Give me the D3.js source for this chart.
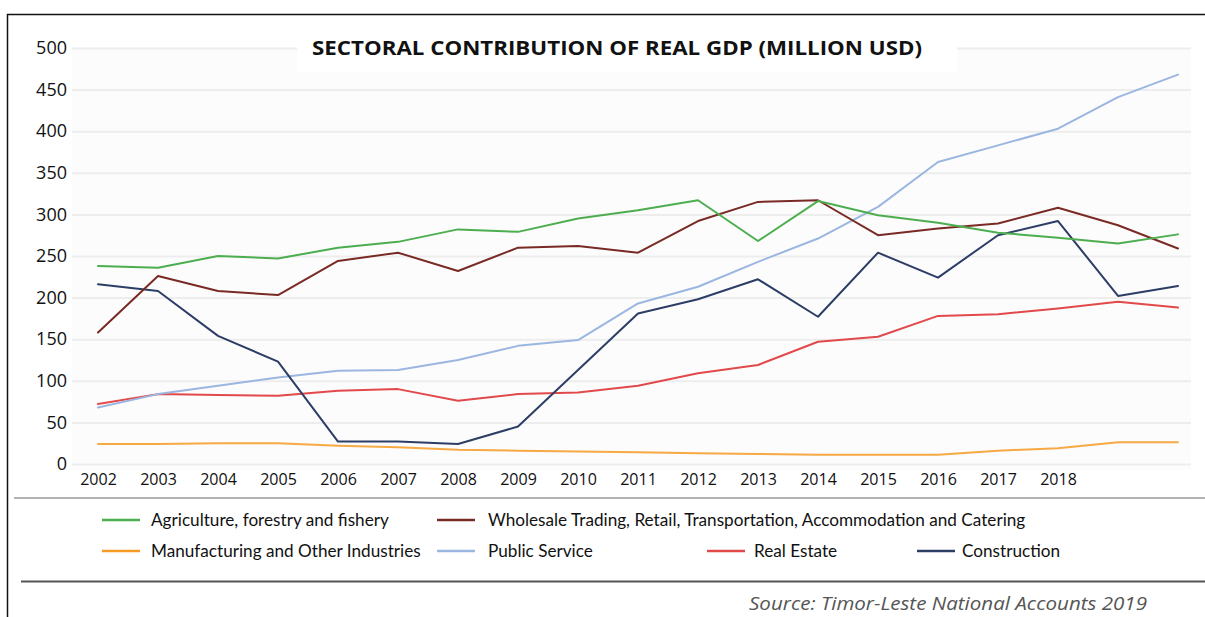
<!DOCTYPE html>
<html>
<head>
<meta charset="utf-8">
<script src="https://cdn.jsdelivr.net/npm/d3@7"></script>
<style>
  html, body { margin: 0; padding: 0; background: #fff; }
  svg { display: block; }
</style>
</head>
<body>
<svg id="chart" width="1205" height="617"></svg>
<script>
const years = [2002,2003,2004,2005,2006,2007,2008,2009,2010,2011,2012,2013,2014,2015,2016,2017,2018,2019,2020];
const labelledYears = [2002,2003,2004,2005,2006,2007,2008,2009,2010,2011,2012,2013,2014,2015,2016,2017,2018];
const yTicks = [0,50,100,150,200,250,300,350,400,450,500];

const agriculture   = [238,236,250,247,260,267,282,279,295,305,317,268,316,299,290,278,272,265,276];
const wholesale     = [158,226,208,203,244,254,232,260,262,254,292,315,317,275,283,289,308,287,259];
const manufacturing = [24,24,25,25,22,20,17,16,15,14,13,12,11,11,11,16,19,26,26];
const publicService = [68,84,94,104,112,113,125,142,149,193,213,243,271,309,363,383,403,441,468];
const realEstate    = [72,84,83,82,88,90,76,84,86,94,109,119,147,153,178,180,187,195,188];
const construction  = [216,208,154,123,27,27,24,45,113,181,198,222,177,254,224,275,292,202,214];

const seriesNames = [
  "Agriculture, forestry and fishery",
  "Wholesale Trading, Retail, Transportation, Accommodation and Catering",
  "Manufacturing and Other Industries",
  "Public Service",
  "Real Estate",
  "Construction"
];
const seriesColors = ["#4dae4f", "#7a2a24", "#f59a23", "#9bb6e0", "#e2494b", "#2c3d66"];
const seriesValues = [agriculture, wholesale, manufacturing, publicService, realEstate, construction];

const titleText = "SECTORAL CONTRIBUTION OF REAL GDP (MILLION USD)";
const sourceText = "Source: Timor-Leste National Accounts 2019";

const svg = d3.select("#chart");

// outer frame
svg.append("path").attr("d", "M7.5,617 L7.5,14.5 L1205,14.5")
  .attr("fill", "none").attr("stroke", "#111").attr("stroke-width", 1.5);

const x = d3.scalePoint().domain(years).range([98, 1178]);
const y = d3.scaleLinear().domain([0, 500]).range([464, 48]);

// plot background
svg.append("rect").attr("x", 72).attr("y", 48).attr("width", 1119).attr("height", 422).attr("fill", "#fcfcfc");

// y axis + gridlines
const yAxis = svg.append("g").attr("transform", "translate(72,0)")
  .call(d3.axisLeft(y).tickValues(yTicks).tickSize(-1119).tickPadding(5).tickFormat(d3.format("d")));
yAxis.select(".domain").remove();
yAxis.selectAll(".tick line").attr("stroke", "#ededed").attr("stroke-width", 2);
yAxis.selectAll(".tick text").attr("font-family", "Open Sans").attr("font-size", 18).attr("fill", "#111");

// title with white box
svg.append("rect").attr("x", 297).attr("y", 30).attr("width", 660).attr("height", 42).attr("fill", "#fff");
svg.append("text").attr("x", 617).attr("y", 55).attr("text-anchor", "middle")
  .attr("font-family", "Open Sans").attr("font-weight", 700).attr("font-size", 19).attr("fill", "#111")
  .attr("textLength", 610).attr("lengthAdjust", "spacingAndGlyphs")
  .text(titleText);

// x axis
const xAxis = svg.append("g").attr("transform", "translate(0,464)")
  .call(d3.axisBottom(x).tickValues(labelledYears).tickSize(0).tickPadding(10));
xAxis.select(".domain").remove();
xAxis.selectAll(".tick text").attr("font-family", "Open Sans").attr("font-size", 16).attr("fill", "#111");

// lines
const line = d3.line().x((d, i) => x(years[i])).y(d => y(d));
const drawOrder = [2, 4, 3, 5, 1, 0];
drawOrder.forEach(k => {
  svg.append("path").datum(seriesValues[k])
    .attr("d", line).attr("fill", "none")
    .attr("stroke", seriesColors[k]).attr("stroke-width", 2)
    .attr("stroke-linejoin", "round").attr("stroke-linecap", "round")
    .attr("opacity", k === 2 ? 0.85 : 1);
});

// separators
svg.append("line").attr("x1", 14).attr("x2", 1205).attr("y1", 498).attr("y2", 498)
  .attr("stroke", "#666").attr("stroke-width", 1);
svg.append("line").attr("x1", 21).attr("x2", 1205).attr("y1", 581.5).attr("y2", 581.5)
  .attr("stroke", "#555").attr("stroke-width", 2);

// legend
const legendFont = "Lato";
const probe = svg.append("text").attr("font-family", legendFont).attr("font-size", 100).text(seriesNames[0]);
const legendSize = 100 * 238 / probe.node().getComputedTextLength();
probe.remove();

const legendItems = [
  {i: 0, lx: 102, tx: 151, ly: 520},
  {i: 1, lx: 437, tx: 488, ly: 520},
  {i: 2, lx: 102, tx: 151, ly: 551},
  {i: 3, lx: 437, tx: 488, ly: 551},
  {i: 4, lx: 707, tx: 754, ly: 551},
  {i: 5, lx: 917, tx: 962, ly: 551}
];
const lg = svg.append("g");
legendItems.forEach(it => {
  lg.append("line").attr("x1", it.lx).attr("x2", it.lx + 38).attr("y1", it.ly).attr("y2", it.ly)
    .attr("stroke", seriesColors[it.i]).attr("stroke-width", 2.5);
  lg.append("text").attr("x", it.tx).attr("y", it.ly).attr("dy", "0.35em")
    .attr("font-family", legendFont).attr("font-size", legendSize).attr("fill", "#111")
    .text(seriesNames[it.i]);
});

// source
svg.append("text").attr("x", 749).attr("y", 610)
  .attr("font-family", "Open Sans").attr("font-style", "italic").attr("font-size", 18).attr("fill", "#555")
  .attr("textLength", 398).attr("lengthAdjust", "spacingAndGlyphs")
  .text(sourceText);
</script>
</body>
</html>
